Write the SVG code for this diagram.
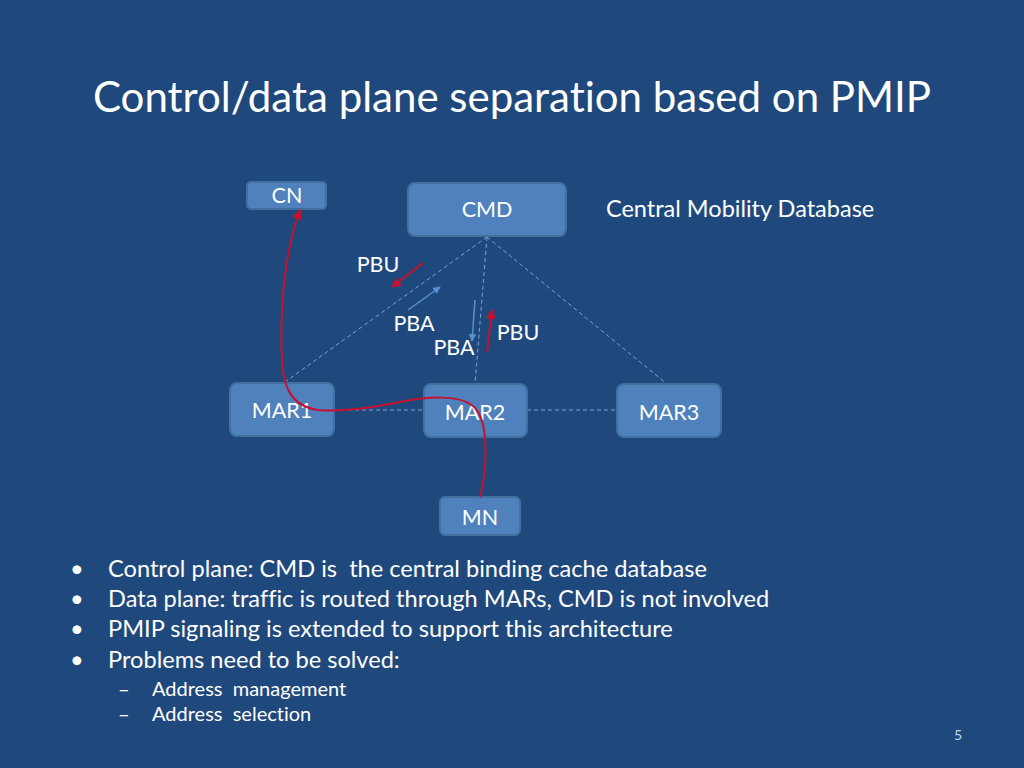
<svg xmlns="http://www.w3.org/2000/svg" width="1024" height="768" viewBox="0 0 1024 768">
<defs>
<style>
.t{font-family:Lato,"Open Sans","Liberation Sans",sans-serif;fill:#ffffff;font-variant-ligatures:none;font-feature-settings:"liga" 0}
.box{fill:#4f81bd;stroke:#41709f;stroke-width:2}
.dash{stroke:#7da2d2;stroke-width:1;stroke-dasharray:4 3;fill:none}
.red{stroke:#c8102e;stroke-width:2;fill:none}
.blue{stroke:#5b8fd0;stroke-width:1.5;fill:none}
.lbl{font-size:21.5px;text-anchor:middle}
.b{font-size:23.6px}
.s{font-size:20px}
</style>
<marker id="ar" viewBox="0 0 10 10" refX="9" refY="5" markerWidth="5" markerHeight="5" orient="auto" markerUnits="strokeWidth">
<path d="M0,0 L10,5 L0,10 z" fill="#c8102e"/>
</marker>
<marker id="ab" viewBox="0 0 10 10" refX="9" refY="5" markerWidth="5" markerHeight="5" orient="auto" markerUnits="strokeWidth">
<path d="M0,0 L10,5 L0,10 z" fill="#5b8fd0"/>
</marker>
</defs>
<rect width="1024" height="768" fill="#1f497d"/>
<text class="t" x="512" y="112" font-size="42" text-anchor="middle">Control/data plane separation based on PMIP</text>

<g id="connectors">
<line class="dash" x1="487" y1="237" x2="285" y2="382"/>
<line class="dash" x1="487" y1="237" x2="475" y2="384"/>
<line class="dash" x1="487" y1="237" x2="667" y2="384"/>
<line class="dash" x1="334" y1="410" x2="423" y2="410"/>
<line class="dash" x1="527" y1="410" x2="617" y2="410"/>
<line class="red" x1="423" y1="263" x2="392" y2="287" marker-end="url(#ar)"/>
<line class="blue" x1="408" y1="310" x2="440" y2="287" marker-end="url(#ab)"/>
<line class="blue" x1="475" y1="300" x2="472" y2="341" marker-end="url(#ab)"/>
<line class="red" x1="487" y1="352" x2="492" y2="310" marker-end="url(#ar)"/>
</g>

<g id="CN"><rect class="box" x="247" y="182" width="79" height="27" rx="4"/><text class="t lbl" x="287" y="203">CN</text></g>
<g id="CMD"><rect class="box" x="408" y="183" width="158" height="53" rx="7"/><text class="t lbl" x="487" y="217">CMD</text></g>
<g id="MAR1"><rect class="box" x="230" y="383" width="104" height="53" rx="7"/><text class="t lbl" x="282" y="418">MAR1</text></g>
<g id="MAR2"><rect class="box" x="424" y="384" width="103" height="53" rx="7"/><text class="t lbl" x="475" y="420">MAR2</text></g>
<g id="MAR3"><rect class="box" x="617" y="384" width="104" height="53" rx="7"/><text class="t lbl" x="669" y="420">MAR3</text></g>
<g id="MN"><rect class="box" x="440" y="497" width="80" height="38" rx="5"/><text class="t lbl" x="480" y="525">MN</text></g>

<g id="flow">
<path class="red" d="M480 497 C487 470,490 420,473 406 C460 395,430 396,400 402 C370 408,340 412,318 410 C290 406,283 385,282 360 C280 320,282 260,300 210" marker-end="url(#ar)"/>
</g>

<g id="labels">
<text class="t lbl" x="378" y="272">PBU</text>
<text class="t lbl" x="414" y="331">PBA</text>
<text class="t lbl" x="454" y="355">PBA</text>
<text class="t lbl" x="518" y="340">PBU</text>
<text class="t" x="606" y="217" font-size="23.5">Central Mobility Database</text>
</g>

<g id="bullets">
<text class="t b" x="70" y="577">•</text>
<text class="t b" x="108" y="577" xml:space="preserve">Control plane: CMD is  the central binding cache database</text>
<text class="t b" x="70" y="607">•</text>
<text class="t b" x="108" y="607">Data plane: traffic is routed through MARs, CMD is not involved</text>
<text class="t b" x="70" y="637">•</text>
<text class="t b" x="108" y="637">PMIP signaling is extended to support this architecture</text>
<text class="t b" x="70" y="668">•</text>
<text class="t b" x="108" y="668">Problems need to be solved:</text>
<text class="t s" x="118" y="696">–</text>
<text class="t s" x="152" y="696" xml:space="preserve">Address  management</text>
<text class="t s" x="118" y="721">–</text>
<text class="t s" x="152" y="721" xml:space="preserve">Address  selection</text>
</g>
<text x="958" y="740" font-family="Lato,'Liberation Sans',sans-serif" font-size="14" fill="#c8d6ea" text-anchor="middle">5</text>
</svg>
